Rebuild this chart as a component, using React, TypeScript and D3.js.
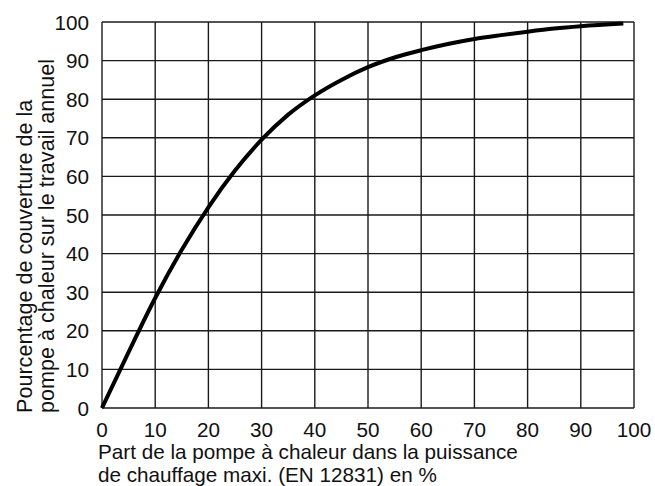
import React from "react";
import * as d3 from "d3";

// share of heat pump in max heating power (%) -> coverage of annual heating work (%)
const shareValues = [0, 5, 10, 15, 20, 25, 30, 35, 40, 45, 50, 55, 60, 65, 70, 75, 80, 85, 90, 98];
const coverageValues = [0, 14.5, 28.5, 41, 52, 61.5, 69.5, 76, 81, 85, 88.3, 90.8, 92.7, 94.3, 95.6, 96.6, 97.5, 98.3, 98.9, 99.6];
const tickValues = [0, 10, 20, 30, 40, 50, 60, 70, 80, 90, 100];
const xTitle = ["Part de la pompe à chaleur dans la puissance", "de chauffage maxi. (EN 12831) en %"];
const yTitle = ["Pourcentage de couverture de la", "pompe à chaleur sur le travail annuel"];

const width = 655;
const height = 486;
const margin = { top: 22, right: 21, bottom: 78, left: 102 };
const font = "'Liberation Sans', Arial, sans-serif";

export default function App() {
    const svgRef = React.useRef<SVGSVGElement>(null);

    React.useEffect(() => {
        const svg = d3.select(svgRef.current);
        svg.selectAll("*").remove();

        const x = d3.scaleLinear().domain([0, 100]).range([margin.left, width - margin.right]);
        const y = d3.scaleLinear().domain([0, 100]).range([height - margin.bottom, margin.top]);

        const grid = svg.append("g").attr("stroke", "#1a1a1a").attr("stroke-width", 1.4);
        grid.selectAll("line.v")
            .data(tickValues)
            .join("line")
            .attr("class", "v")
            .attr("x1", d => x(d)).attr("x2", d => x(d))
            .attr("y1", y(0)).attr("y2", y(100));
        grid.selectAll("line.h")
            .data(tickValues)
            .join("line")
            .attr("class", "h")
            .attr("y1", d => y(d)).attr("y2", d => y(d))
            .attr("x1", x(0)).attr("x2", x(100));

        // x tick labels
        svg.append("g")
            .selectAll("text")
            .data(tickValues)
            .join("text")
            .attr("x", d => x(d))
            .attr("y", y(0) + 29)
            .attr("text-anchor", "middle")
            .attr("font-family", font)
            .attr("font-size", 20.7)
            .attr("fill", "#111")
            .text(d => d);

        // y tick labels
        svg.append("g")
            .selectAll("text")
            .data(tickValues)
            .join("text")
            .attr("x", x(0) - 13)
            .attr("y", d => y(d) + 7.5)
            .attr("text-anchor", "end")
            .attr("font-family", font)
            .attr("font-size", 20.7)
            .attr("fill", "#111")
            .text(d => d);

        // x title
        svg.append("g")
            .selectAll("text")
            .data(xTitle)
            .join("text")
            .attr("x", x(0) - 4)
            .attr("y", (d, i) => y(0) + 51 + i * 23)
            .attr("font-family", font)
            .attr("font-size", 20.7)
            .attr("fill", "#111")
            .text(d => d);

        // y title
        svg.append("g")
            .selectAll("text")
            .data(yTitle)
            .join("text")
            .attr("transform", (d, i) => `translate(${31.5 + i * 22.5},${y(0) + 5}) rotate(-90)`)
            .attr("font-family", font)
            .attr("font-size", 21.6)
            .attr("fill", "#111")
            .text(d => d);

        const line = d3.line<number>()
            .x((d, i) => x(shareValues[i]))
            .y(d => y(d))
            .curve(d3.curveMonotoneX);

        svg.append("path")
            .datum(coverageValues)
            .attr("fill", "none")
            .attr("stroke", "#000")
            .attr("stroke-width", 4)
            .attr("d", line);
    }, []);

    return (
        <svg
            ref={svgRef}
            width={width}
            height={height}
            style={{ position: "absolute", left: 0, top: 0, background: "#fff" }}
        />
    );
}
